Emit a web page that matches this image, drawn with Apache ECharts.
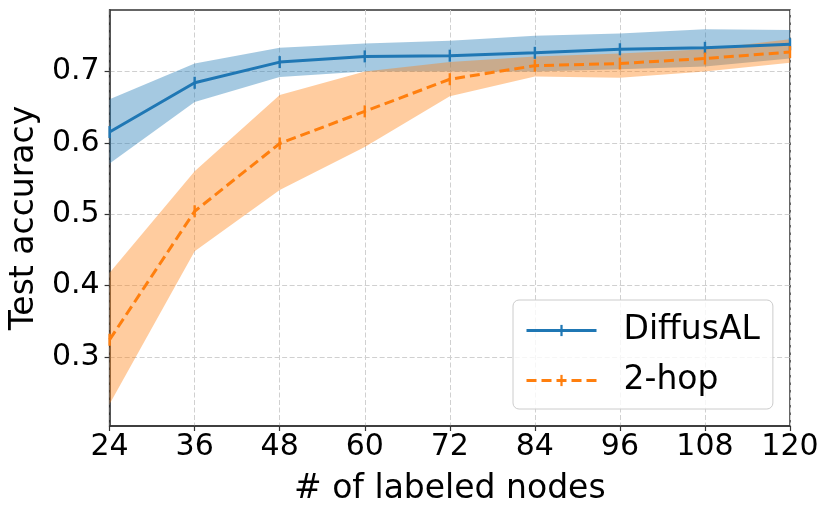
<!DOCTYPE html>
<html>
<head>
<meta charset="utf-8">
<script src="https://cdn.jsdelivr.net/npm/echarts@6/dist/echarts.min.js"></script>
<style>html,body{margin:0;padding:0;background:#fff;}#c{width:830px;height:516px;}</style>
</head>
<body>
<div id="c"></div>
<script>
const xValues = [24, 36, 48, 60, 72, 84, 96, 108, 120];
const diffusalMean  = [0.615, 0.684, 0.713, 0.721, 0.722, 0.726, 0.731, 0.733, 0.738];
const diffusalUpper = [0.661, 0.711, 0.733, 0.739, 0.743, 0.750, 0.753, 0.759, 0.758];
const diffusalLower = [0.571, 0.657, 0.692, 0.700, 0.700, 0.700, 0.703, 0.707, 0.718];
const hopMean  = [0.324, 0.504, 0.599, 0.644, 0.689, 0.708, 0.711, 0.718, 0.727];
const hopUpper = [0.418, 0.560, 0.667, 0.700, 0.713, 0.721, 0.725, 0.731, 0.745];
const hopLower = [0.234, 0.448, 0.534, 0.594, 0.665, 0.693, 0.691, 0.700, 0.712];
const yTickValues = [0.3, 0.4, 0.5, 0.6, 0.7];
const yTickLabels = ['0.3', '0.4', '0.5', '0.6', '0.7'];
const seriesNames = ['DiffusAL', '2-hop'];

const pairs = arr => arr.map((v, i) => [xValues[i], v]);
const bandRows = (lo, up) => lo.map((v, i) => [xValues[i], v, up[i]]);

const FONT = 'DejaVu Sans';
const BLUE = '#1f77b4', ORANGE = '#ff7f0e';
// vertical bar marker centred in a square bounding box
const VBAR = 'path://M0,0 L0,0 M10,10 L10,10 M4,0 L6,0 L6,10 L4,10 Z';
const gridLine = { show: true, lineStyle: { color: '#d0d0d0', width: 1, type: [5, 2.5] } };

function bandSeries(name, rows, color, z) {
  return {
    name: name, type: 'custom', data: rows, z: z, silent: true,
    encode: { x: 0, y: [1, 2] },
    clip: true,
    renderItem: function (params, api) {
      if (params.dataIndex !== 0) return null;
      const top = [], bottom = [];
      for (let i = 0; i < rows.length; i++) {
        top.push(api.coord([rows[i][0], rows[i][2]]));
        bottom.push(api.coord([rows[i][0], rows[i][1]]));
      }
      return {
        type: 'polygon',
        shape: { points: top.concat(bottom.reverse()) },
        style: { fill: color, opacity: 0.4 },
        silent: true
      };
    }
  };
}

const chart = echarts.init(document.getElementById('c'), null, { renderer: 'canvas' });
chart.setOption({
  animation: false,
  backgroundColor: '#ffffff',
  textStyle: { fontFamily: FONT },
  grid: { left: 108, right: 40, top: 10, bottom: 90, show: true, borderColor: '#333', borderWidth: 1.5, backgroundColor: 'transparent' },
  legend: {
    orient: 'vertical', left: 513, top: 300,
    data: seriesNames,
    itemWidth: 70, itemHeight: 14, itemGap: 17,
    padding: [14, 13, 12, 12],
    lineStyle: { width: 3 },
    itemStyle: { borderWidth: 0 },
    backgroundColor: 'rgba(255,255,255,0.8)',
    borderColor: '#cccccc', borderWidth: 1, borderRadius: 6,
    textStyle: { fontFamily: FONT, fontSize: 33, color: '#000', padding: [0, 0, 0, 22] }
  },
  xAxis: {
    type: 'value', min: 24, max: 120, interval: 12,
    name: '# of labeled nodes', nameLocation: 'middle', nameGap: 47,
    nameTextStyle: { fontFamily: FONT, fontSize: 33, color: '#000' },
    axisLine: { show: true, lineStyle: { color: '#333', width: 1.5 } },
    axisTick: { show: true, inside: false, length: 5, lineStyle: { color: '#333', width: 1.2 } },
    axisLabel: { fontFamily: FONT, fontSize: 30, color: '#000', margin: 6 },
    splitLine: gridLine
  },
  yAxis: {
    type: 'value', min: 0.2032, max: 0.786,
    name: 'Test accuracy', nameLocation: 'middle', nameGap: 58,
    nameTextStyle: { fontFamily: FONT, fontSize: 33, color: '#000' },
    axisLine: { show: true, lineStyle: { color: '#333', width: 1.5 } },
    axisTick: { show: true, inside: false, length: 5, customValues: yTickValues, lineStyle: { color: '#333', width: 1.2 } },
    axisLabel: { fontFamily: FONT, fontSize: 30, color: '#000', margin: 10, customValues: yTickValues,
      formatter: v => { const i = yTickValues.findIndex(t => Math.abs(t - v) < 1e-6); return i >= 0 ? yTickLabels[i] : ''; } },
    splitLine: gridLine
  },
  series: [
    bandSeries('DiffusAL band', bandRows(diffusalLower, diffusalUpper), BLUE, 1),
    bandSeries('2-hop band', bandRows(hopLower, hopUpper), ORANGE, 2),
    { name: seriesNames[0], type: 'line', data: pairs(diffusalMean), color: BLUE,
      lineStyle: { color: BLUE, width: 3 }, symbol: VBAR, symbolSize: 12, showSymbol: true,
      itemStyle: { color: BLUE, borderWidth: 0 }, z: 5 },
    { name: seriesNames[1], type: 'line', data: pairs(hopMean), color: ORANGE,
      lineStyle: { color: ORANGE, width: 3, type: [10, 5] }, symbol: VBAR, symbolSize: 12, showSymbol: true,
      itemStyle: { color: ORANGE, borderWidth: 0 }, z: 5 }
  ]
});
</script>
</body>
</html>
